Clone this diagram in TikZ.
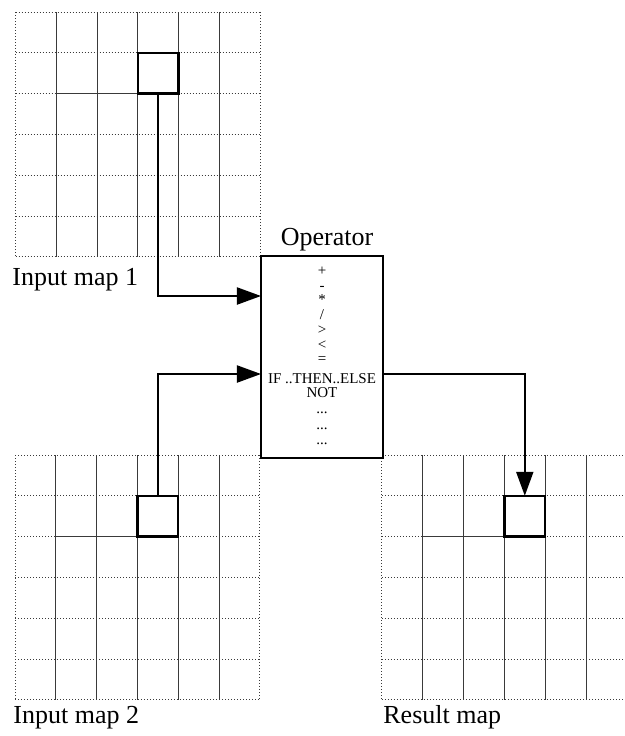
\documentclass[tikz,border=0pt]{standalone}
\usepackage{fontspec}
\setmainfont{Liberation Serif}
\usetikzlibrary{arrows.meta,calc}
\definecolor{mpink} {HTML}{000000}
\definecolor{mpgrid}{HTML}{3A3A3A}
\definecolor{mpsurf}{HTML}{FFFFFF}
\tikzset{
  gridline/.style={mpgrid, line width=0.5pt, densely dotted},
  colline/.style={mpgrid, line width=0.45pt},
  cellbox/.style={draw=mpink, line width=1.2pt, minimum size=20.4pt,
                  inner sep=0pt, outer sep=0pt},
  opbox/.style={draw=mpink, fill=mpsurf, line width=1pt, minimum width=61pt,
                minimum height=101pt, inner sep=0pt, outer sep=0pt},
  flow/.style={mpink, line width=1pt, -{Triangle[length=12pt,width=8.5pt]}},
  maplabel/.style={font=\fontsize{13}{15}\selectfont, inner sep=0pt},
  optext/.style={font=\fontsize{7.5}{9}\selectfont, inner sep=0pt}
}
\newcommand{\rastermap}[3]{%
  \foreach \j in {0,...,6}
    {\draw[gridline] ($(#1,#2)+(0,\j*40.8)$) -- ++(244.8,0);}
  \foreach \i in {1,...,5}
    {\draw[colline] ($(#1,#2)+(\i*40.8,0)$) -- ++(0,244.8);}
  \foreach \i in {0,6}
    {\draw[gridline] ($(#1,#2)+(\i*40.8,0)$) -- ++(0,244.8);}
  \draw[colline] ($(#1,#2)+(40.8,81.6)$) -- ++(81.6,0);
  \node[cellbox] (#3) at ($(#1,#2)+(142.8,61.2)$) {};}

\begin{document}
\begin{tikzpicture}[x=0.5pt, y=-0.5pt]
  \useasboundingbox (0,0) rectangle (625,736);
  \rastermap{15.5}{12}{cellone}
  \rastermap{15}{455}{celltwo}
  \rastermap{382}{455}{cellres}
  \node[maplabel, anchor=base west] (labone) at (12,285) {Input map 1};
  \node[maplabel, anchor=base west] (labtwo) at (13,723) {Input map 2};
  \node[maplabel, anchor=base west] (labres) at (383,723) {Result map};
  \node[opbox] (op) at (322,357) {};
  \node[maplabel, anchor=base] (optitle) at (327,245) {Operator};
  \foreach \y/\t in {271/{+}, 288/{-}, 300/{*}, 315/{/}, 330/{>}, 345/{<},
                     360/{=}, 379/{IF ..THEN..ELSE}, 393/{NOT},
                     413/{...}, 429/{...}, 444/{...}}
    {\node[optext] at (322,\y) {\t};}
  \coordinate (opinone) at ($(op.north west)+(0,40)$);
  \coordinate (opintwo) at ($(op.north west)+(0,118)$);
  \coordinate (opout)   at ($(op.north east)+(0,118)$);
  \draw[flow] (cellone.south) |- (opinone);
  \draw[flow] (celltwo.north) |- (opintwo);
  \draw[flow] (opout) -| (cellres.north);
\end{tikzpicture}
\end{document}
